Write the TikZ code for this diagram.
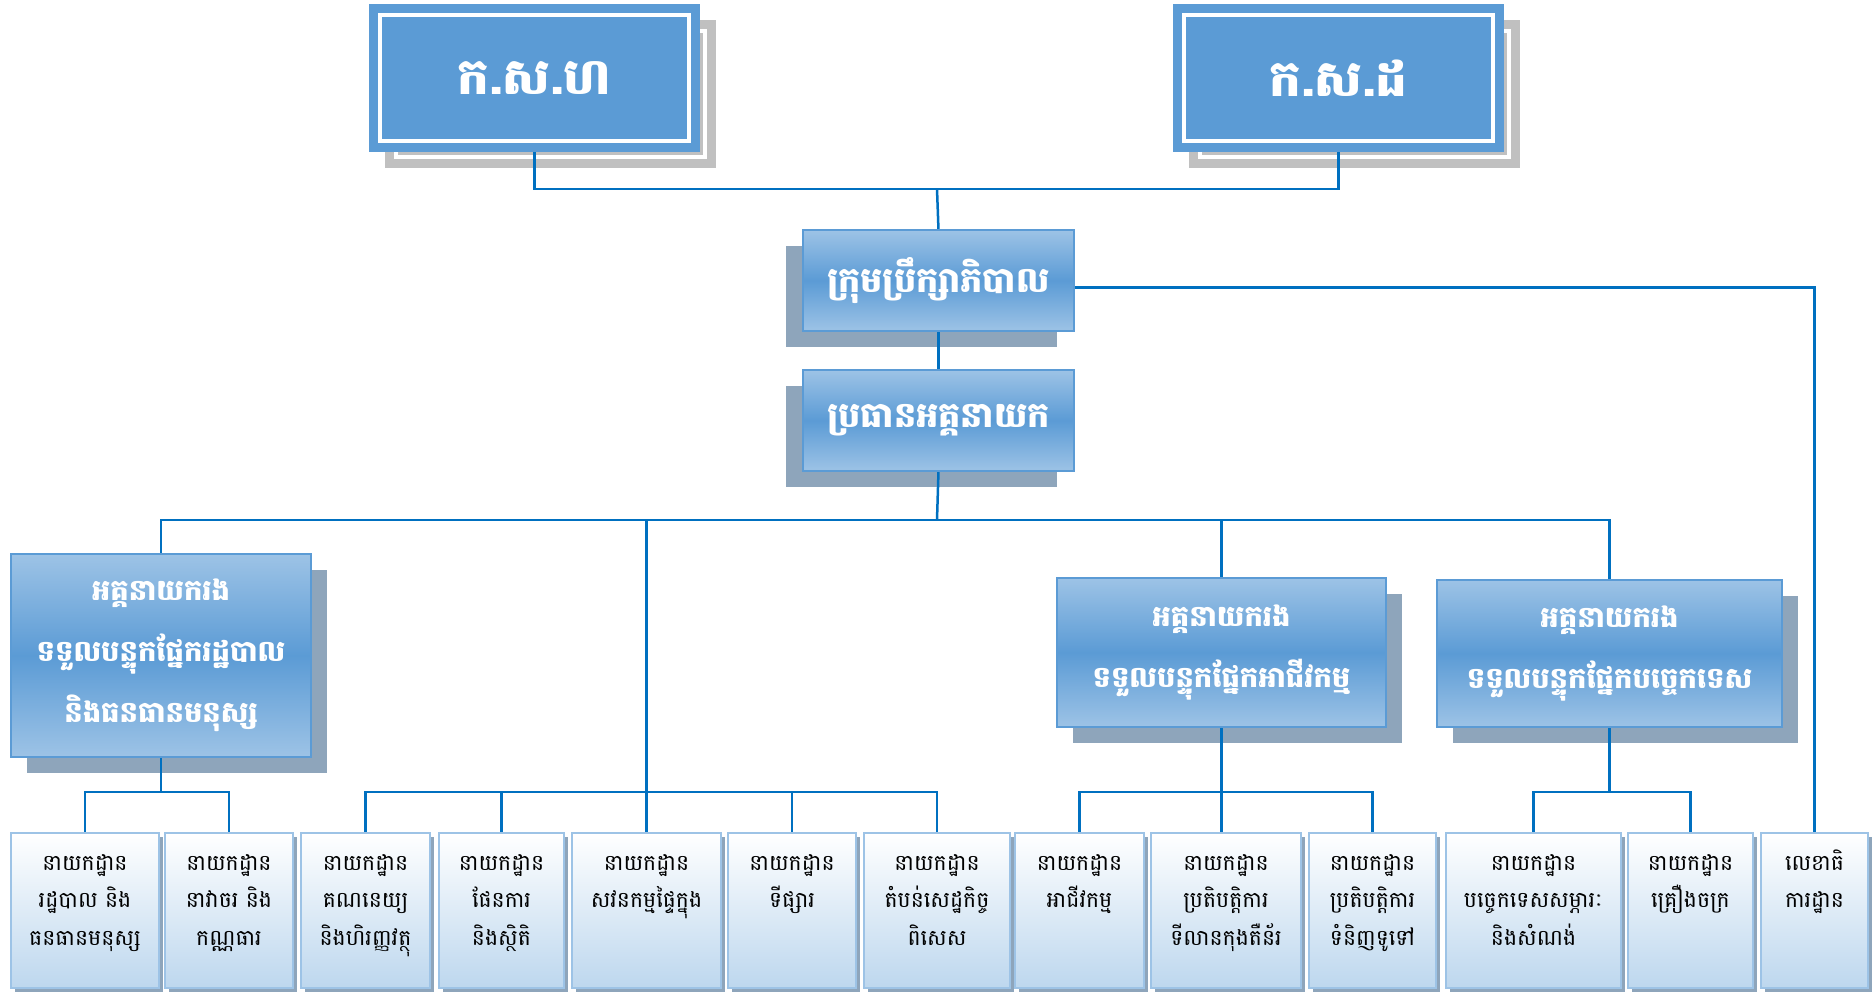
\documentclass[tikz,border=0pt]{standalone}
\usepackage{fontspec}
\newfontfamily\khmer[Script=Khmer]{Battambang}
\usetikzlibrary{backgrounds}
\definecolor{topblue}{RGB}{91,155,213}
\definecolor{lineblue}{RGB}{0,112,192}
\definecolor{paleblue}{RGB}{157,195,230}
\definecolor{deptblue}{RGB}{189,215,238}
\definecolor{shadowblue}{RGB}{142,165,187}
\definecolor{shadowgray}{RGB}{192,192,192}
\begin{document}
\begin{tikzpicture}[x=1pt,y=-1pt,font=\khmer,
    conn/.style={lineblue,line width=2.5pt},
    topbox/.style={fill=topblue,draw=white,line width=3.5pt,outer sep=0pt,
      minimum width=309,minimum height=126,text=white,
      font=\khmer\bfseries\fontsize{50}{56}\selectfont,
      preaction={draw=topblue,line width=22pt}},
    headbox/.style={top color=paleblue,bottom color=paleblue,middle color=topblue,
      draw=topblue,line width=2pt,outer sep=0pt,text=white,align=center,
      font=\khmer\bfseries\fontsize{35}{40}\selectfont},
    deputy/.style={headbox,font=\khmer\bfseries\fontsize{29}{61}\selectfont},
    deptbox/.style={top color=white,bottom color=deptblue,draw=paleblue,
      line width=2.5pt,outer sep=0pt,inner sep=2pt,align=center,
      text height=35pt,text depth=116pt,
      font=\khmer\fontsize{22}{37.5}\selectfont}]
  \useasboundingbox (0,0) rectangle (1874,993);
  \node[topbox] (ksh) at (534.5,78) {ក.ស.ហ};
  \node[topbox] (ksd) at (1338.5,78) {ក.ស.ដ};
  \node[headbox,minimum width=271,minimum height=101] (board) at (938.5,280.5) {ក្រុមប្រឹក្សាភិបាល};
  \node[headbox,minimum width=271,minimum height=101] (ceo) at (938.5,420.5) {ប្រធានអគ្គនាយក};
  \node[deputy,minimum width=300,minimum height=203] (dg1) at (161,655.5) {អគ្គនាយករង\\ទទួលបន្ទុកផ្នែករដ្ឋបាល\\និងធនធានមនុស្ស};
  \node[deputy,minimum width=329,minimum height=149] (dg2) at (1221.5,652.5) {អគ្គនាយករង\\ទទួលបន្ទុកផ្នែកអាជីវកម្ម};
  \node[deputy,minimum width=345,minimum height=147] (dg3) at (1609.5,653.5) {អគ្គនាយករង\\ទទួលបន្ទុកផ្នែកបច្ចេកទេស};
  \foreach \n/\l/\r/\t in {d1/11/159/{នាយកដ្ឋាន\\រដ្ឋបាល និង\\ធនធានមនុស្ស},
      d2/165/293/{នាយកដ្ឋាន\\នាវាចរ និង\\កណ្ណធារ},
      d3/301/430/{នាយកដ្ឋាន\\គណនេយ្យ\\និងហិរញ្ញវត្ថុ},
      d4/439/564/{នាយកដ្ឋាន\\ផែនការ\\និងស្ថិតិ},
      d5/572/721/{នាយកដ្ឋាន\\សវនកម្មផ្ទៃក្នុង},
      d6/728/856/{នាយកដ្ឋាន\\ទីផ្សារ},
      d7/864/1010/{នាយកដ្ឋាន\\តំបន់សេដ្ឋកិច្ច\\ពិសេស},
      d8/1015/1144/{នាយកដ្ឋាន\\អាជីវកម្ម},
      d9/1151/1301/{នាយកដ្ឋាន\\ប្រតិបត្តិការ\\ទីលានកុងតឺន័រ},
      d10/1309/1436/{នាយកដ្ឋាន\\ប្រតិបត្តិការ\\ទំនិញទូទៅ},
      d11/1446/1621/{នាយកដ្ឋាន\\បច្ចេកទេសសម្ភារៈ\\និងសំណង់},
      d12/1628/1753/{នាយកដ្ឋាន\\គ្រឿងចក្រ},
      sec/1761/1868/{លេខាធិ\\ការដ្ឋាន}}
    \node[deptbox,text width=\r-\l-4] (\n) at ({(\l+\r)/2},910.5) {\t};
  \begin{scope}[on background layer]
    \foreach \n in {ksh,ksd} {
      \fill[shadowgray] ([shift={(5,5)}]\n.north west) rectangle ([shift={(27,27)}]\n.south east);
      \draw[white,line width=3.5pt] ([shift={(16,16)}]\n.north west) rectangle ([shift={(16,16)}]\n.south east);
    }
    \foreach \n/\s in {board/-17,ceo/-17,dg1/16,dg2/16,dg3/16}
      \fill[shadowblue] ([shift={(\s,16)}]\n.north west) rectangle ([shift={(\s,16)}]\n.south east);
    \foreach \n in {d1,d2,d3,d4,d5,d6,d7,d8,d9,d10,d11,d12,sec}
      \fill[shadowblue] ([shift={(4,4)}]\n.north west) rectangle ([shift={(4,4)}]\n.south east);
    \coordinate (tbus) at (937,189);
    \coordinate (mbus) at (937,520);
    \coordinate (lbus) at (647,792);
    \draw[conn] (ksh.south) |- (tbus) -| (ksd.south);
    \draw[conn] (tbus) -- (board.north);
    \draw[conn] (board.south) -- (ceo.north);
    \draw[conn] ([shift={(0,7)}]board.east) -| (sec.north);
    \draw[conn] (ceo.south) -- (mbus);
    \draw[conn] (dg1.north) |- (mbus) -| (dg3.north);
    \draw[conn] (dg2.north) -- (dg2.north |- mbus);
    \draw[conn] (d5.north) -- (d5.north |- mbus);
    \draw[conn] (d3.north) |- (d7.north |- lbus) -- (d7.north);
    \foreach \n in {d4,d6}
      \draw[conn] (\n.north) -- (\n.north |- lbus);
    \draw[conn] (dg1.south) -- (dg1.south |- lbus);
    \draw[conn] (d1.north) |- (d2.north |- lbus) -- (d2.north);
    \draw[conn] (dg2.south) -- (dg2.south |- d9.north);
    \draw[conn] (d8.north) |- (d10.north |- lbus) -- (d10.north);
    \draw[conn] (dg3.south) -- (dg3.south |- lbus);
    \draw[conn] (d11.north) |- (d12.north |- lbus) -- (d12.north);
  \end{scope}
\end{tikzpicture}
\end{document}
